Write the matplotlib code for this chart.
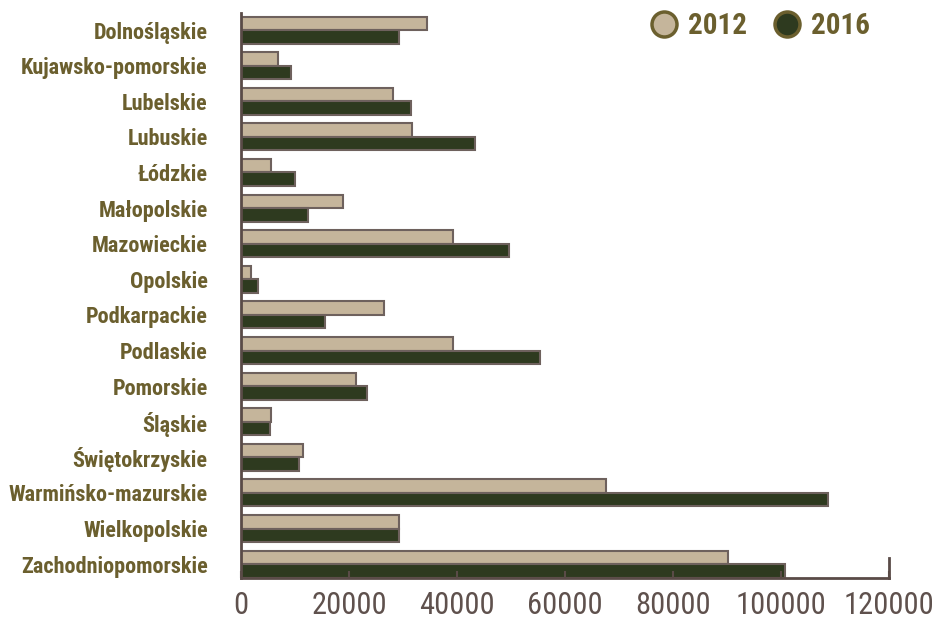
import matplotlib
matplotlib.use('Agg')
import matplotlib.pyplot as plt
import numpy as np
from matplotlib.lines import Line2D
from matplotlib import font_manager

regions = ['Dolnośląskie', 'Kujawsko-pomorskie', 'Lubelskie', 'Lubuskie', 'Łódzkie',
           'Małopolskie', 'Mazowieckie', 'Opolskie', 'Podkarpackie', 'Podlaskie',
           'Pomorskie', 'Śląskie', 'Świętokrzyskie', 'Warmińsko-mazurskie',
           'Wielkopolskie', 'Zachodniopomorskie']
v2012 = [34400, 6900, 28100, 31600, 5600, 18900, 39200, 1800, 26400, 39300,
         21200, 5600, 11500, 67600, 29200, 90100]
v2016 = [29200, 9300, 31400, 43300, 10000, 12400, 49600, 3200, 15600, 55300,
         23400, 5400, 10800, 108700, 29200, 100700]
xticks = [0, 20000, 40000, 60000, 80000, 100000, 120000]

# pick a condensed face, whichever is there
names = {f.name for f in font_manager.fontManager.ttflist}
cond = 'DejaVu Sans'
for cand in ['Roboto Condensed', 'Asap Condensed', 'Archivo Narrow', 'Oswald']:
    if cand in names:
        cond = cand
        break

olive = '#6b5f2e'
greybrown = '#5f514d'
edge = '#6e615d'
axcol = '#5a4b47'
c2012 = '#c5b59b'
c2016 = '#2e3a1f'

fig = plt.figure(figsize=(9.39, 6.18), dpi=100)
ax = fig.add_axes([0.2567, 0.0647, 0.6900, 0.9143])

y = np.arange(len(regions))
h = 0.38
ax.barh(y - h/2, v2012, height=h, color=c2012, edgecolor=edge, linewidth=1.5)
ax.barh(y + h/2, v2016, height=h, color=c2016, edgecolor=edge, linewidth=1.5)

ax.set_ylim(len(regions) - 0.61, -0.48)
ax.set_xlim(0, 120000)
ax.set_yticks(y)
ax.set_yticklabels(regions, fontfamily=cond, fontweight='bold', fontsize=16, color=olive)
ax.set_xticks(xticks)
ax.set_xticklabels([str(t) for t in xticks], fontfamily=cond, fontweight='normal',
                   fontsize=22, color=greybrown)
ax.tick_params(axis='y', length=0, pad=24)
ax.tick_params(axis='x', direction='in', length=5, width=1.5, color=axcol, pad=9)

for s in ['top', 'right']:
    ax.spines[s].set_visible(False)
for s in ['left', 'bottom']:
    ax.spines[s].set_color(axcol)
    ax.spines[s].set_linewidth(2)
ax.plot([120000, 120000], [0, 0.035], transform=ax.get_xaxis_transform(),
        color=axcol, lw=2, clip_on=False)

handles = [Line2D([], [], marker='o', ls='', markersize=18, markerfacecolor=c2012,
                  markeredgecolor=olive, markeredgewidth=2.5),
           Line2D([], [], marker='o', ls='', markersize=18, markerfacecolor=c2016,
                  markeredgecolor=olive, markeredgewidth=2.5)]
leg = fig.legend(handles, ['2012', '2016'], loc='center', bbox_to_anchor=(0.809, 0.958),
                 ncol=2, frameon=False, handlelength=1.0, handletextpad=0.3,
                 columnspacing=0.9, prop={'family': cond, 'weight': 'bold', 'size': 21})
for t in leg.get_texts():
    t.set_color(olive)

fig.savefig('out.png', dpi=100)
